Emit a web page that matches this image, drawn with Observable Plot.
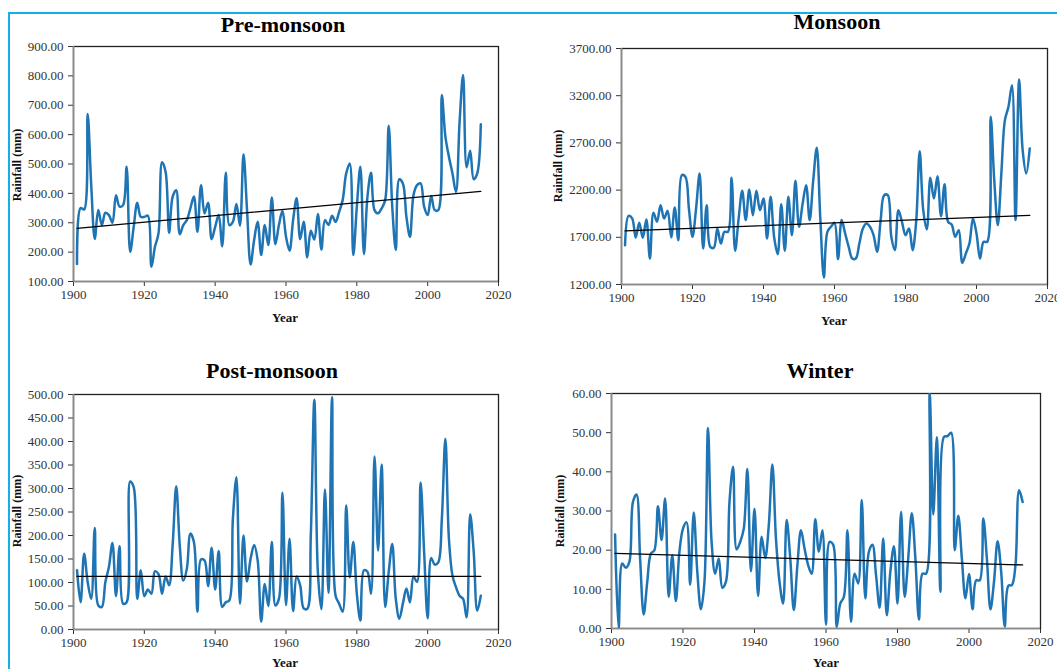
<!DOCTYPE html>
<html><head><meta charset="utf-8">
<script src="https://cdn.jsdelivr.net/npm/d3@7"></script>
<script src="https://cdn.jsdelivr.net/npm/@observablehq/plot@0.6"></script>
<style>
html,body{margin:0;padding:0;background:#fff;overflow:hidden;}
#wrap{position:relative;width:1057px;height:669px;overflow:hidden;background:#fff;font-family:"Liberation Serif","Times New Roman",serif;}
.panel{position:absolute;}
.title{position:absolute;font-weight:bold;font-size:22px;line-height:1;transform:translateX(-50%);white-space:nowrap;color:#000;}
.xlab{position:absolute;font-weight:bold;font-size:13px;line-height:1;transform:translate(-50%,-50%);color:#111;white-space:nowrap;}
.ylab{position:absolute;font-weight:bold;font-size:12px;line-height:1;transform:translate(-50%,-50%) rotate(-90deg);white-space:nowrap;color:#111;}
#border{position:absolute;left:8px;top:12px;width:2000px;height:2000px;border-left:2.5px solid #16aee8;border-top:2.5px solid #16aee8;pointer-events:none;}
</style>
</head>
<body>
<div id="wrap"></div>
<script>
// ---- data ----
const years = d3.range(1901, 2016);
const xTicks = [1900, 1920, 1940, 1960, 1980, 2000, 2020];

const preMonsoon = [160,350,345,670,430,245,343,292,334,326,300,394,355,360,491,201,286,368,320,320,
324,150,218,264,506,474,266,389,411,261,292,309,349,389,269,428,332,368,244,286,
326,220,470,292,303,364,290,533,343,158,241,303,190,292,224,386,227,292,341,252,
205,309,383,244,303,182,273,243,330,209,309,292,324,303,337,377,468,502,190,355,
491,193,389,470,343,332,349,377,630,355,207,448,434,320,252,394,428,434,355,326,
391,343,343,735,593,525,468,405,640,803,489,545,448,468,635];

const monsoon = [1617,1927,1900,1698,1853,1695,1889,1475,1959,1865,2040,1899,1980,1700,2015,1670,2358,2341,2000,1705,
2000,2376,1581,2040,1599,1590,1793,1634,1758,1758,2330,1557,1900,2192,1882,2206,1934,2192,1988,2111,
1687,2129,1700,1521,2051,1557,2129,1723,2298,1811,2050,2252,1882,2300,2648,1900,1274,1758,1811,1853,
1468,1882,1740,1599,1475,1475,1634,1793,1846,1811,1723,1546,1882,2146,2146,1705,1564,1987,1864,1723,
1793,1564,1864,2612,1987,1783,2330,2111,2348,1924,2263,1864,1836,1705,1776,1430,1528,1634,1899,1740,
1475,1652,1652,2976,2305,1829,2376,2941,3082,3312,1882,3372,2623,2376,2641];

const postMonsoon = [126,58,161,101,65,216,51,48,101,133,184,71,177,55,58,315,303,65,126,71,
85,76,124,118,76,113,94,180,305,179,104,129,204,186,38,149,147,92,174,85,
167,48,58,62,235,324,55,200,102,150,180,147,17,97,50,186,51,65,291,52,
193,39,113,94,45,44,200,489,122,43,298,78,494,72,55,38,264,111,186,76,
19,126,123,76,368,168,351,48,122,182,65,23,55,87,58,113,101,313,165,24,
152,138,143,235,406,193,115,90,72,65,26,245,165,40,72];

const winter = [24.0,0.0,16.6,15.5,17.0,32.3,34.2,17.9,3.6,11.9,19.1,20.0,31.2,22.6,33.2,8.1,18.7,7.0,19.6,25.5,
27.1,11.2,29.6,14.5,4.9,11.9,51.2,22.1,14.0,17.9,10.4,11.9,32.3,41.3,20.2,22.1,25.5,40.7,14.6,30.6,
8.3,23.4,18.0,26.4,41.9,23.0,11.9,6.4,27.7,17.9,4.7,16.2,25.1,20.4,16.2,14.0,27.9,19.6,25.1,1.0,
22.1,21.4,0.4,6.4,8.1,25.1,1.7,14.0,11.5,32.8,7.7,19.6,21.4,13.6,5.3,23.0,3.4,14.5,21.0,6.4,
29.8,8.1,17.9,29.4,17.9,2.3,14.0,14.0,60.0,29.1,48.8,9.4,48.9,49.1,50.0,20.0,28.8,17.9,7.7,13.9,
4.9,12.3,12.3,28.1,17.9,4.9,12.0,22.3,14.5,0.5,10.9,11.1,16.2,35.3,32.3];

const titles = ["Pre-monsoon", "Monsoon", "Post-monsoon", "Winter"];
const xLabel = "Year";
const yLabel = "Rainfall (mm)";
const yTicksPre = d3.range(100, 901, 100);
const yTicksMon = d3.range(1200, 3701, 500);
const yTicksPost = d3.range(0, 501, 50);
const yTicksWin = d3.range(0, 61, 10);

// Sen's slope trend (median of pairwise slopes, median intercept)
function senTrend(xs, ys) {
  const slopes = [];
  for (let i = 0; i < xs.length; i++)
    for (let j = i + 1; j < xs.length; j++) slopes.push((ys[j] - ys[i]) / (xs[j] - xs[i]));
  const b = d3.median(slopes);
  const a = d3.median(xs.map((x, i) => ys[i] - b * x));
  const [x0, x1] = d3.extent(xs);
  return [{year: x0, value: a + b * x0}, {year: x1, value: a + b * x1}];
}

// ---- layout ----
const panels = [
  {values: preMonsoon, dom: [100, 900], ticks: yTicksPre, left: 0, top: 0, width: 510, height: 310, ml: 73, mt: 46, mr: 12, mb: 29,
   title: [283, 13.6], xl: [285, 317], yl: [17, 165]},
  {values: monsoon, dom: [1200, 3700], ticks: yTicksMon, left: 540, top: 0, width: 517, height: 314, ml: 81, mt: 48, mr: 10, mb: 30,
   title: [837, 10.6], xl: [834, 320], yl: [558, 166]},
  {values: postMonsoon, dom: [0, 500], ticks: yTicksPost, left: 0, top: 350, width: 510, height: 308, ml: 73, mt: 44, mr: 12, mb: 29,
   title: [272, 360], xl: [285, 662], yl: [17, 511]},
  {values: winter, dom: [0, 60], ticks: yTicksWin, left: 540, top: 350, width: 510, height: 308, ml: 71, mt: 43, mr: 10, mb: 30,
   title: [820, 360], xl: [826, 662], yl: [560, 511]}
];

const wrap = document.getElementById("wrap");
const fmt = d3.format(".2f");

panels.forEach((p, k) => {
  const data = years.map((yr, i) => ({year: yr, value: p.values[i]}));
  const trend = senTrend(years, p.values);
  const chart = Plot.plot({
    width: p.width, height: p.height,
    marginLeft: p.ml, marginTop: p.mt, marginRight: p.mr, marginBottom: p.mb,
    style: {fontFamily: '"Liberation Serif", "Times New Roman", serif', fontSize: "13px", color: "#333", background: "transparent", overflow: "visible"},
    x: {domain: [1900, 2020], ticks: xTicks, tickFormat: d => String(d), label: null, tickSize: 5, tickPadding: 3},
    y: {domain: p.dom, ticks: p.ticks, tickFormat: fmt, label: null, tickSize: 5, tickPadding: 5},
    marks: [
      Plot.frame({stroke: "#222", strokeWidth: 1.3}),
      Plot.ruleX([1900], {stroke: "#8a8a8a", strokeWidth: 1.6}),
      Plot.ruleY([p.dom[0]], {stroke: "#8a8a8a", strokeWidth: 1.6}),
      Plot.line(data, {x: "year", y: "value", stroke: "#1f74b4", strokeWidth: 2.5, curve: "catmull-rom", clip: true}),
      Plot.line(trend, {x: "year", y: "value", stroke: "#000", strokeWidth: 1.3})
    ]
  });
  chart.classList.add("panel");
  chart.style.left = p.left + "px";
  chart.style.top = p.top + "px";
  chart.style.maxWidth = "none";
  wrap.appendChild(chart);

  const t = document.createElement("div");
  t.className = "title"; t.textContent = titles[k];
  t.style.left = p.title[0] + "px"; t.style.top = p.title[1] + "px";
  wrap.appendChild(t);

  const xl = document.createElement("div");
  xl.className = "xlab"; xl.textContent = xLabel;
  xl.style.left = p.xl[0] + "px"; xl.style.top = p.xl[1] + "px";
  wrap.appendChild(xl);

  const yl = document.createElement("div");
  yl.className = "ylab"; yl.textContent = yLabel;
  yl.style.left = p.yl[0] + "px"; yl.style.top = p.yl[1] + "px";
  wrap.appendChild(yl);
});

const border = document.createElement("div");
border.id = "border";
wrap.appendChild(border);
</script>
</body></html>
